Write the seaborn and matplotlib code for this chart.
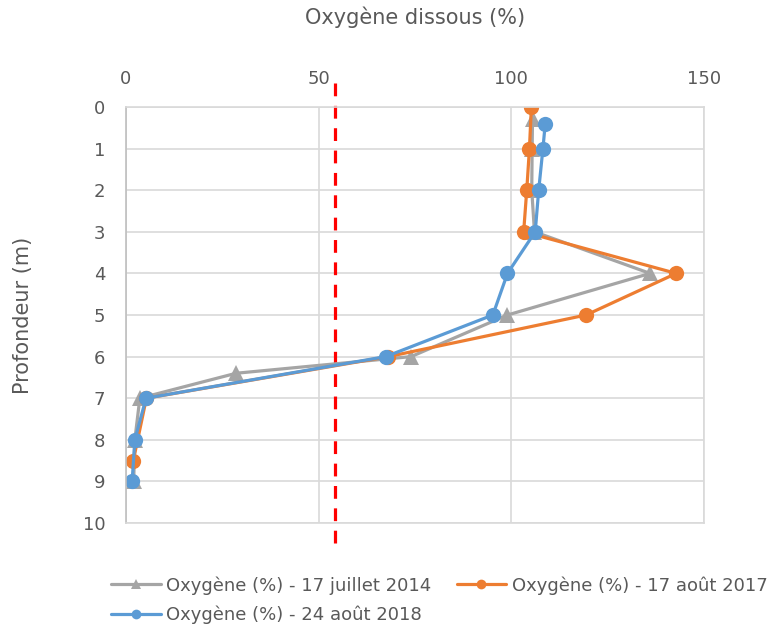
import numpy as np
import pandas as pd
import seaborn as sns
import matplotlib.pyplot as plt
from matplotlib.lines import Line2D

# depth (m) and dissolved oxygen (%) per campaign
depth_2014 = [0.3, 1, 2, 3, 4, 5, 6, 6.4, 7, 8, 9]
oxy_2014 = [105.5, 105.4, 105.3, 106.0, 136.0, 99.0, 74.0, 28.6, 3.6, 2.3, 2.0]

depth_2017 = [0, 1, 2, 3, 4, 5, 6, 7, 8.5]
oxy_2017 = [105.2, 104.7, 104.0, 103.2, 142.8, 119.4, 68.1, 5.3, 1.9]

depth_2018 = [0.4, 1, 2, 3, 4, 5, 6, 7, 8, 9]
oxy_2018 = [108.8, 108.2, 107.1, 106.2, 99.0, 95.2, 67.4, 5.2, 2.3, 1.6]

labels = ['Oxygène (%) - 17 juillet 2014',
          'Oxygène (%) - 17 août 2017',
          'Oxygène (%) - 24 août 2018']
threshold = 54.3

sns.set_style("white")
plt.rcParams['font.family'] = ['DejaVu Sans']
txt = '#595959'
grid_c = '#D9D9D9'

fig = plt.figure(figsize=(7.7, 6.29), dpi=100)
ax = fig.add_axes([0.1636, 0.1685, 0.7507, 0.6614])

series = [
    (oxy_2014, depth_2014, '#A5A5A5', '^', labels[0]),
    (oxy_2017, depth_2017, '#ED7D31', 'o', labels[1]),
    (oxy_2018, depth_2018, '#5B9BD5', 'o', labels[2]),
]
handles = []
for x, y, c, m, lab in series:
    df = pd.DataFrame({'oxy': x, 'depth': y})
    sns.lineplot(data=df, x='oxy', y='depth', sort=False, estimator=None,
                 color=c, marker=m, markersize=11, markeredgewidth=0,
                 linewidth=2.3, ax=ax, label=lab, legend=False)
    handles.append(Line2D([0], [0], color=c, marker=m, markersize=7,
                          markeredgewidth=0, linewidth=2.3))

ax.set_xlim(0, 150)
ax.set_ylim(10, 0)
ax.set_xticks([0, 50, 100, 150])
ax.set_yticks(range(0, 11))
ax.xaxis.tick_top()
ax.xaxis.set_label_position('top')
ax.grid(True, color=grid_c, linewidth=1.2)
for s in ax.spines.values():
    s.set_color(grid_c)
    s.set_linewidth(1.2)
ax.spines['left'].set_color('#BFBFBF')
ax.tick_params(length=0, labelsize=13, colors=txt)
ax.tick_params(axis='y', pad=15)
ax.tick_params(axis='x', pad=14)
ax.set_xlabel('Oxygène dissous (%)', fontsize=15, color=txt, labelpad=33)
ax.set_ylabel('Profondeur (m)', fontsize=15, color=txt, labelpad=36)

# threshold line extends past the plot box
ax.plot([threshold, threshold], [-0.58, 10.65], color='red', linestyle=(0, (4, 3)),
        linewidth=2.3, clip_on=False, zorder=1)

order = [0, 2, 1]
fig.legend([handles[i] for i in order], [labels[i] for i in order],
           loc='upper left', bbox_to_anchor=(0.123, 0.11), ncol=2, frameon=False,
           fontsize=13, labelcolor=txt, handlelength=2.75, handletextpad=0.3,
           columnspacing=1.4, labelspacing=0.6)

plt.savefig('out.png', dpi=100)
